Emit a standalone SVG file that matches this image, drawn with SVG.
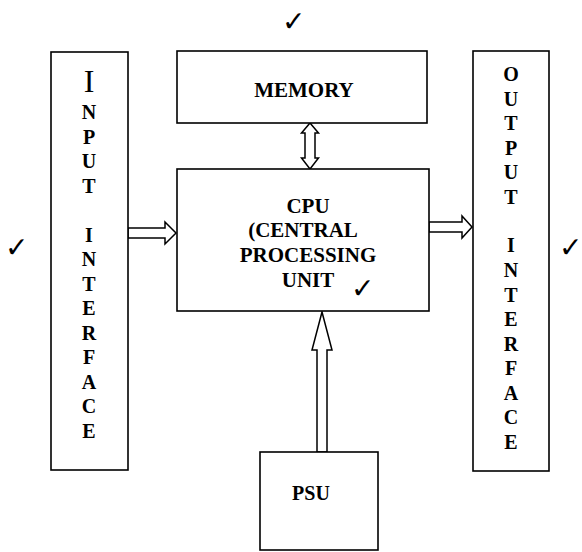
<svg xmlns="http://www.w3.org/2000/svg" width="582" height="552" viewBox="0 0 582 552">
<style>
.box{fill:#fff;stroke:#000;stroke-width:1.6}
.arr{fill:#fff;stroke:#000;stroke-width:1.5;stroke-linejoin:miter}
.t{font-size:21px;text-anchor:middle;fill:#000}
.v{font-size:20px;text-anchor:middle;fill:#000}
.ck{font-family:'DejaVu Sans',sans-serif;font-size:28px;fill:#000}
</style>
<rect width="582" height="552" fill="#fff"/>
<g id="connectors">
<polygon class="arr" points="310,123 318.5,133 315,133 315,158 318.5,158 310,169 301.5,158 305,158 305,133 301.5,133"/>
<polygon class="arr" points="128,228 165,228 165,222 176,233 165,244 165,238 128,238"/>
<polygon class="arr" points="429,222 462,222 462,216 472,227 462,238 462,232 429,232"/>
<polygon class="arr" points="317,452 317,350 312,350 322,312 332,350 327,350 327,452"/>
</g>
<g font-family="'Liberation Serif', 'Times New Roman', serif" font-weight="bold">
<g id="input">
<rect class="box" x="51" y="52" width="77" height="418"/>
<text x="89" y="92" font-weight="normal" font-size="32" text-anchor="middle">I</text>
<text class="v" x="89" y="119">N</text>
<text class="v" x="89" y="143.5">P</text>
<text class="v" x="89" y="168">U</text>
<text class="v" x="89" y="192.5">T</text>
<text class="v" x="89" y="241.5">I</text>
<text class="v" x="89" y="266">N</text>
<text class="v" x="89" y="290.5">T</text>
<text class="v" x="89" y="315">E</text>
<text class="v" x="89" y="339.5">R</text>
<text class="v" x="89" y="364">F</text>
<text class="v" x="89" y="388.5">A</text>
<text class="v" x="89" y="413">C</text>
<text class="v" x="89" y="437.5">E</text>
</g>
<g id="output">
<rect class="box" x="473" y="51" width="76" height="420"/>
<text class="v" x="511" y="81">O</text>
<text class="v" x="511" y="105.5">U</text>
<text class="v" x="511" y="130">T</text>
<text class="v" x="511" y="154.5">P</text>
<text class="v" x="511" y="179">U</text>
<text class="v" x="511" y="203.5">T</text>
<text class="v" x="511" y="252">I</text>
<text class="v" x="511" y="277">N</text>
<text class="v" x="511" y="301.5">T</text>
<text class="v" x="511" y="326">E</text>
<text class="v" x="511" y="350.5">R</text>
<text class="v" x="511" y="375">F</text>
<text class="v" x="511" y="399.5">A</text>
<text class="v" x="511" y="424">C</text>
<text class="v" x="511" y="448.5">E</text>
</g>
<g id="memory">
<rect class="box" x="177" y="51" width="250" height="72"/>
<text class="t" x="304" y="97">MEMORY</text>
</g>
<g id="cpu">
<rect class="box" x="177" y="169" width="252" height="142"/>
<text class="t" x="308" y="213">CPU</text>
<text class="t" x="303" y="237">(CENTRAL</text>
<text class="t" x="308" y="262">PROCESSING</text>
<text class="t" x="308" y="287">UNIT</text>
</g>
<g id="psu">
<rect class="box" x="260" y="452" width="118" height="98"/>
<text class="v" x="311" y="500">PSU</text>
</g>
</g>
<g id="checks">
<text class="ck" x="282" y="31">✓</text>
<text class="ck" x="5" y="257">✓</text>
<text class="ck" x="559" y="257">✓</text>
<text class="ck" x="351" y="298">✓</text>
</g>
</svg>
